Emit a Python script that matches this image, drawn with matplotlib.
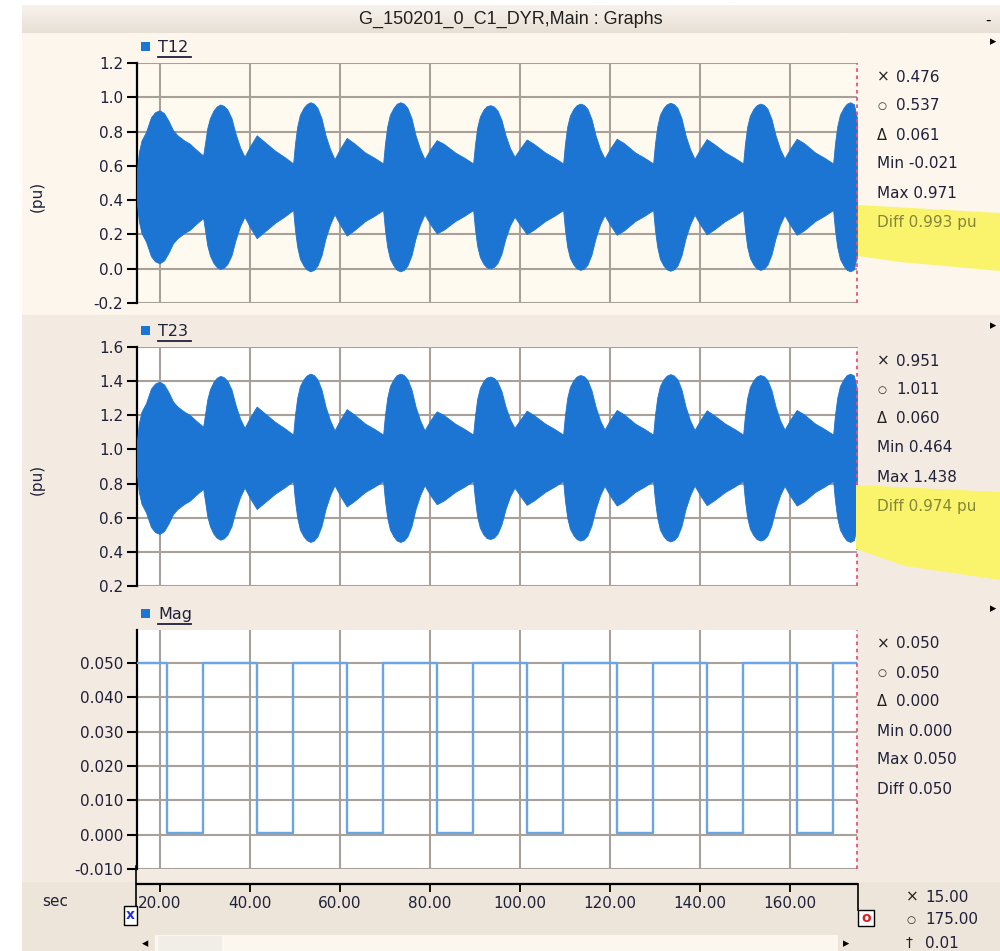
import numpy as np
import matplotlib
matplotlib.use('Agg')
import matplotlib.pyplot as plt
from matplotlib.patches import Rectangle, Polygon
from matplotlib.lines import Line2D

plt.rcParams['axes.unicode_minus'] = False
plt.rcParams['font.family'] = ['DejaVu Sans']

W, H = 1000, 951

env_t = [15.0, 15.4, 16.0, 17.0, 18.1, 19.0, 20.0, 21.0, 22.0, 23.0, 24.0, 25.5, 26.7, 28.0,
         29.7, 30.1, 30.6, 31.2, 32.0, 32.7, 33.5, 34.3, 35.1, 36.0, 36.9, 37.9, 38.9, 40.2, 41.6, 43.2, 45.7, 47.7,
         49.7, 50.1, 50.6, 51.2, 52.0, 52.7, 53.5, 54.3, 55.1, 56.0, 56.9, 57.9, 58.9, 60.2, 61.6, 63.2, 65.7, 67.7,
         69.7, 70.1, 70.6, 71.2, 72.0, 72.7, 73.5, 74.3, 75.1, 76.0, 76.9, 77.9, 78.9, 80.2, 81.6, 83.2, 85.7, 87.7,
         89.7, 90.1, 90.6, 91.2, 92.0, 92.7, 93.5, 94.3, 95.1, 96.0, 96.9, 97.9, 98.9, 100.2, 101.6, 103.2, 105.7, 107.7,
         109.7, 110.1, 110.6, 111.2, 112.0, 112.7, 113.5, 114.3, 115.1, 116.0, 116.9, 117.9, 118.9, 120.2, 121.6, 123.2, 125.7, 127.7,
         129.7, 130.1, 130.6, 131.2, 132.0, 132.7, 133.5, 134.3, 135.1, 136.0, 136.9, 137.9, 138.9, 140.2, 141.6, 143.2, 145.7, 147.7,
         149.7, 150.1, 150.6, 151.2, 152.0, 152.7, 153.5, 154.3, 155.1, 156.0, 156.9, 157.9, 158.9, 160.2, 161.6, 163.2, 165.7, 167.7,
         169.7, 170.1, 170.6, 171.2, 172.0, 172.7, 173.5, 174.3, 175.0]
env_amp = [0.10, 0.20, 0.27, 0.32, 0.405, 0.435, 0.446, 0.43, 0.385, 0.33, 0.30, 0.27, 0.252, 0.22,
           0.182, 0.25, 0.34, 0.40, 0.445, 0.468, 0.48, 0.472, 0.45, 0.40, 0.31, 0.23, 0.175, 0.24, 0.30, 0.265, 0.21, 0.175,
           0.136, 0.25, 0.35, 0.42, 0.46, 0.482, 0.493, 0.485, 0.46, 0.40, 0.30, 0.22, 0.161, 0.225, 0.285, 0.255, 0.20, 0.17,
           0.136, 0.25, 0.35, 0.42, 0.46, 0.484, 0.493, 0.485, 0.46, 0.40, 0.30, 0.22, 0.161, 0.22, 0.272, 0.25, 0.20, 0.17,
           0.136, 0.245, 0.345, 0.41, 0.45, 0.47, 0.476, 0.468, 0.445, 0.39, 0.30, 0.225, 0.175, 0.225, 0.276, 0.25, 0.20, 0.17,
           0.136, 0.25, 0.35, 0.415, 0.455, 0.476, 0.485, 0.478, 0.455, 0.395, 0.30, 0.22, 0.165, 0.225, 0.28, 0.255, 0.20, 0.17,
           0.136, 0.25, 0.35, 0.42, 0.46, 0.481, 0.49, 0.482, 0.46, 0.40, 0.30, 0.22, 0.163, 0.222, 0.278, 0.25, 0.20, 0.17,
           0.136, 0.25, 0.35, 0.415, 0.455, 0.476, 0.485, 0.478, 0.455, 0.395, 0.30, 0.22, 0.165, 0.225, 0.28, 0.255, 0.20, 0.17,
           0.136, 0.25, 0.35, 0.42, 0.46, 0.484, 0.493, 0.482, 0.40]
t12_center = 0.478
t23_center = 0.951

mag_t = [15.0, 21.6, 29.7, 41.6, 49.7, 61.6, 69.7, 81.6, 89.7, 101.6, 109.7,
         121.6, 129.7, 141.6, 149.7, 161.6, 169.7, 175.0]
mag_v = [0.0501, 0.0005, 0.0501, 0.0005, 0.0501, 0.0005, 0.0501, 0.0005, 0.0501,
         0.0005, 0.0501, 0.0005, 0.0501, 0.0005, 0.0501, 0.0005, 0.0501, 0.0501]

x_ticks = [20, 40, 60, 80, 100, 120, 140, 160]
t12_ticks = [-0.2, 0.0, 0.2, 0.4, 0.6, 0.8, 1.0, 1.2]
t23_ticks = [0.2, 0.4, 0.6, 0.8, 1.0, 1.2, 1.4, 1.6]
mag_ticks = [-0.01, 0.0, 0.01, 0.02, 0.03, 0.04, 0.05]

t12_info = ['0.476', '0.537', '0.061', 'Min -0.021', 'Max 0.971', 'Diff 0.993 pu']
t23_info = ['0.951', '1.011', '0.060', 'Min 0.464', 'Max 1.438', 'Diff 0.974 pu']
mag_info = ['0.050', '0.050', '0.000', 'Min 0.000', 'Max 0.050', 'Diff 0.050']

TXT = '#20203a'
BLUE = '#1c75d2'


def fx(x):
    return x / W


def fy(y):
    return 1 - y / H


def box(l, t, r, b):
    return [l / W, 1 - b / H, (r - l) / W, (b - t) / H]


def rect(l, t, r, b, color, **kw):
    fig.add_artist(Rectangle((fx(l), fy(b)), (r - l) / W, (b - t) / H,
                             transform=fig.transFigure, facecolor=color,
                             edgecolor=kw.pop('ec', 'none'), **kw))


def text(x, y, s, **kw):
    kw.setdefault('color', TXT)
    kw.setdefault('fontsize', 11)
    kw.setdefault('va', 'center')
    fig.text(fx(x), fy(y), s, **kw)


fig = plt.figure(figsize=(10, 9.51), dpi=100, facecolor='white')

# window background regions
rect(22, 33, 1000, 315, '#fcf6ec', zorder=0)
rect(22, 315, 1000, 882, '#f3ebe1', zorder=0)
rect(22, 882, 1000, 951, '#ede5da', zorder=0)
bar = fig.add_axes(box(22, 5, 1000, 33))
bar.imshow(np.linspace(0, 1, 20).reshape(-1, 1), aspect='auto',
           cmap=matplotlib.colors.LinearSegmentedColormap.from_list('b', ['#f7f2ec', '#e8e0d5']))
bar.axis('off')
text(511, 19, 'G_150201_0_C1_DYR,Main : Graphs', ha='center', fontsize=13,
     family='Liberation Sans', color='#202020')
text(985, 20, '-', fontsize=11, color='black')

panels = [
    (63, 303, (-0.2, 1.2), t12_ticks, '%.1f', 'T12', t12_info, '#fffaf0'),
    (347, 586, (0.2, 1.6), t23_ticks, '%.1f', 'T23', t23_info, 'white'),
    (630, 869, (-0.01, 0.0596), mag_ticks, '%.3f', 'Mag', mag_info, 'white'),
]
axes = []
for top, bot, ylim, yt, fmt, name, info, bg in panels:
    ax = fig.add_axes(box(137, top, 857, bot))
    ax.set_facecolor(bg)
    ax.set_xlim(15, 175)
    ax.set_ylim(*ylim)
    ax.set_xticks(x_ticks)
    ax.set_yticks(yt)
    ax.set_yticklabels([fmt % v for v in yt])
    ax.tick_params(axis='x', length=0, labelbottom=False)
    ax.tick_params(axis='y', direction='out', length=7, width=1.5, color='black',
                   labelsize=11, labelcolor=TXT, pad=3)
    ax.grid(True, color='#a8a199', lw=1.5)
    ax.set_axisbelow(True)
    for s in ['top', 'right', 'bottom']:
        ax.spines[s].set_visible(False)
    ax.spines['left'].set_linewidth(1.6)
    ax.axvline(175, color='#f04f74', ls=(0, (2, 2)), lw=1.3, clip_on=False, zorder=5)
    axes.append(ax)

    # legend entry
    rect(141, top - 21, 150, top - 12, BLUE, zorder=3)
    text(158, top - 16, name, fontsize=11.5)
    fig.add_artist(Line2D([fx(158), fx(191)], [fy(top - 6), fy(top - 6)],
                          color=TXT, lw=1.3))
    text(990, top - 21, '\u25b8', fontsize=9, color='black')

    # cursor readouts
    y0 = top + 14
    syms = ['\u00d7', '\u25cb', '\u0394']
    sizes = [11, 7.5, 10.5]
    for i, s in enumerate(info):
        yy = y0 + 29 * i
        if i < 3:
            text(877, yy, syms[i], fontsize=sizes[i], color='#202020')
            text(896, yy, s)
        else:
            text(877, yy, s)

ax1, ax2, ax3 = axes
ax1.fill_between(env_t, [t12_center - a for a in env_amp], [t12_center + a for a in env_amp],
                 color=BLUE, lw=0.6, edgecolor=BLUE, zorder=3)
ax2.fill_between(env_t, [t23_center - a for a in env_amp], [t23_center + a for a in env_amp],
                 color=BLUE, lw=0.6, edgecolor=BLUE, zorder=3)
ax3.step(mag_t, mag_v, where='post', color='#6aa6e6', lw=1.7, zorder=3)

for ax, yc in [(ax1, 196), (ax2, 479)]:
    text(37, yc, '(pu)', rotation=90, ha='center', fontsize=11)

# yellow highlighter strokes over the Diff readouts
for pts in [[(858, 205), (1000, 213), (1000, 271), (900, 262), (858, 256)],
            [(856, 485), (1000, 492), (1000, 580), (905, 566), (856, 549)]]:
    fig.add_artist(Polygon([(fx(x), fy(y)) for x, y in pts], closed=True,
                           transform=fig.transFigure, facecolor='#faf46c',
                           edgecolor='none', zorder=4))
text(877, 63 + 14 + 29 * 5, t12_info[5], color='#86863a', zorder=6)
text(877, 347 + 14 + 29 * 5, t23_info[5], color='#86863a', zorder=6)

# time axis below the panels
axx = fig.add_axes([fx(137), fy(884), 720 / W, 0.0001])
axx.set_xlim(15, 175)
axx.set_xticks(x_ticks)
axx.set_xticklabels(['%.2f' % v for v in x_ticks])
axx.set_yticks([])
axx.patch.set_visible(False)
for s in ['top', 'right', 'left']:
    axx.spines[s].set_visible(False)
axx.spines['bottom'].set_linewidth(1.6)
axx.tick_params(axis='x', direction='out', length=6, width=1.3, labelsize=11,
                labelcolor=TXT, pad=3)
text(42, 901, 'sec', fontsize=11)

# cursor markers
fig.add_artist(Line2D([fx(136), fx(136)], [fy(866), fy(906)], color='black', lw=1.2, zorder=7))
rect(124, 906, 137, 925, 'white', ec='black', lw=1.0, zorder=5)
text(130.5, 915, 'x', ha='center', color='#2030e0', fontsize=10, fontweight='bold', zorder=6)
fig.add_artist(Line2D([fx(858), fx(858)], [fy(884), fy(910)], color='black', lw=1.2))
rect(858, 910, 874, 926, 'white', ec='black', lw=1.0, zorder=5)
text(866, 918, 'o', ha='center', color='#e02020', fontsize=10, fontweight='bold', zorder=6)

text(906, 897, '\u00d7', fontsize=11, color='#202020')
text(925, 897, '15.00')
text(906, 920, '\u25cb', fontsize=7.5, color='#202020')
text(925, 920, '175.00')
text(906, 943, '\u2020', fontsize=10, color='#202020')
text(925, 943, '0.01')

# scrollbar
rect(155, 935, 838, 951, '#fbf6ee', zorder=1)
rect(158, 936, 222, 951, '#f1ede7', zorder=2)
text(142, 944, '\u25c2', fontsize=9, color='black')
text(843, 944, '\u25b8', fontsize=9, color='black')

fig.savefig('out.png', dpi=100, facecolor=fig.get_facecolor())
